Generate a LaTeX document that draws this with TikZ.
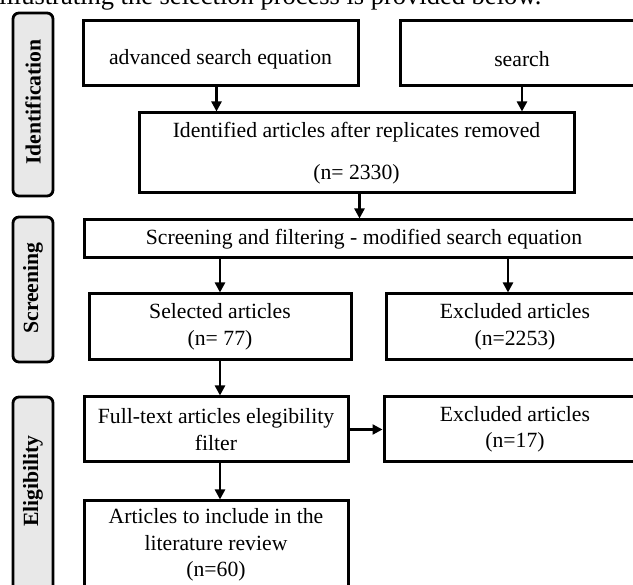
\documentclass[tikz,border=0pt]{standalone}
\usepackage{fontspec}
\setmainfont{Liberation Serif}
\usetikzlibrary{arrows.meta}

\begin{document}
\begin{tikzpicture}[x=1pt,y=-1pt,
        box/.style={draw=black, line width=3pt, align=center, inner sep=0pt,
            font=\fontsize{21.7}{26.5}\selectfont},
        phase/.style={draw=black, line width=2.8pt, fill=gray!18, rounded corners=6pt},
        phasetext/.style={rotate=90, font=\fontsize{21.7}{26}\selectfont\bfseries},
        arr/.style={line width=2.3pt, -{Triangle[length=10pt,width=10pt]}}]
        \clip (0,0) rectangle (633,585);

        % text above the figure
        \node[anchor=base west, inner sep=0pt, font=\fontsize{26.5}{30}\selectfont]
        (cap) at (-1,5) {illustrating the selection process is provided below.};

        % phase labels on the left
        \draw[phase] (13,13) rectangle (53,196);
        \node[phasetext] (labid) at (33,102) {Identification};
        \draw[phase] (13,217) rectangle (53,362);
        \node[phasetext] (labscr) at (33,288) {Screening};
        \draw[phase] (13,397) rectangle (53,620);
        \node[phasetext] (labelig) at (33,481) {Eligibility};

        % identification
        \node[box, minimum width=275pt, minimum height=65pt] (adv) at (220.5,53.5)
        {\mbox{}\\advanced search equation};
        \node[box, minimum width=244pt, minimum height=65pt] (srch) at (522,53.5)
        {\mbox{}\\search};
        \node[box, minimum width=435pt, minimum height=80pt] (ident) at (356.5,153)
        {Identified articles after replicates removed\\[16pt](n= 2330)};

        % screening
        \node[box, minimum width=560pt, minimum height=38pt] (screen) at (364,239)
        {Screening and filtering - modified search equation};
        \node[box, minimum width=262pt, minimum height=66pt] (sel) at (220,327)
        {Selected articles\\(n= 77)};
        \node[box, minimum width=258pt, minimum height=66pt] (excl) at (515,327)
        {Excluded articles\\(n=2253)};

        % eligibility
        \node[box, minimum width=264pt, minimum height=65pt] (full) at (216,429.5)
        {Full-text articles elegibility\\filter};
        \node[box, minimum width=262pt, minimum height=65pt] (exclft) at (515,429.5)
        {Excluded articles\\(n=17)};
        \node[box, minimum width=264pt, minimum height=88pt] (incl) at (216,545)
        {Articles to include in the\\literature review\\(n=60)};

        \draw[arr] ([xshift=-4pt]adv.south) -- ([xshift=-4pt]adv.south |- ident.north);
        \draw[arr] (srch.south) -- (srch.south |- ident.north);
        \draw[arr] ([xshift=3pt]ident.south) -- ([xshift=3pt]ident.south |- screen.north);
        \draw[arr] (sel.north |- screen.south) -- (sel.north);
        \draw[arr] ([xshift=-7pt]excl.north |- screen.south) -- ([xshift=-7pt]excl.north);
        \draw[arr] (sel.south) -- (sel.south |- full.north);
        \draw[arr] (full.east) -- (exclft.west);
        \draw[arr] ([xshift=4pt]full.south) -- ([xshift=4pt]full.south |- incl.north);
    \end{tikzpicture}
\end{document}
